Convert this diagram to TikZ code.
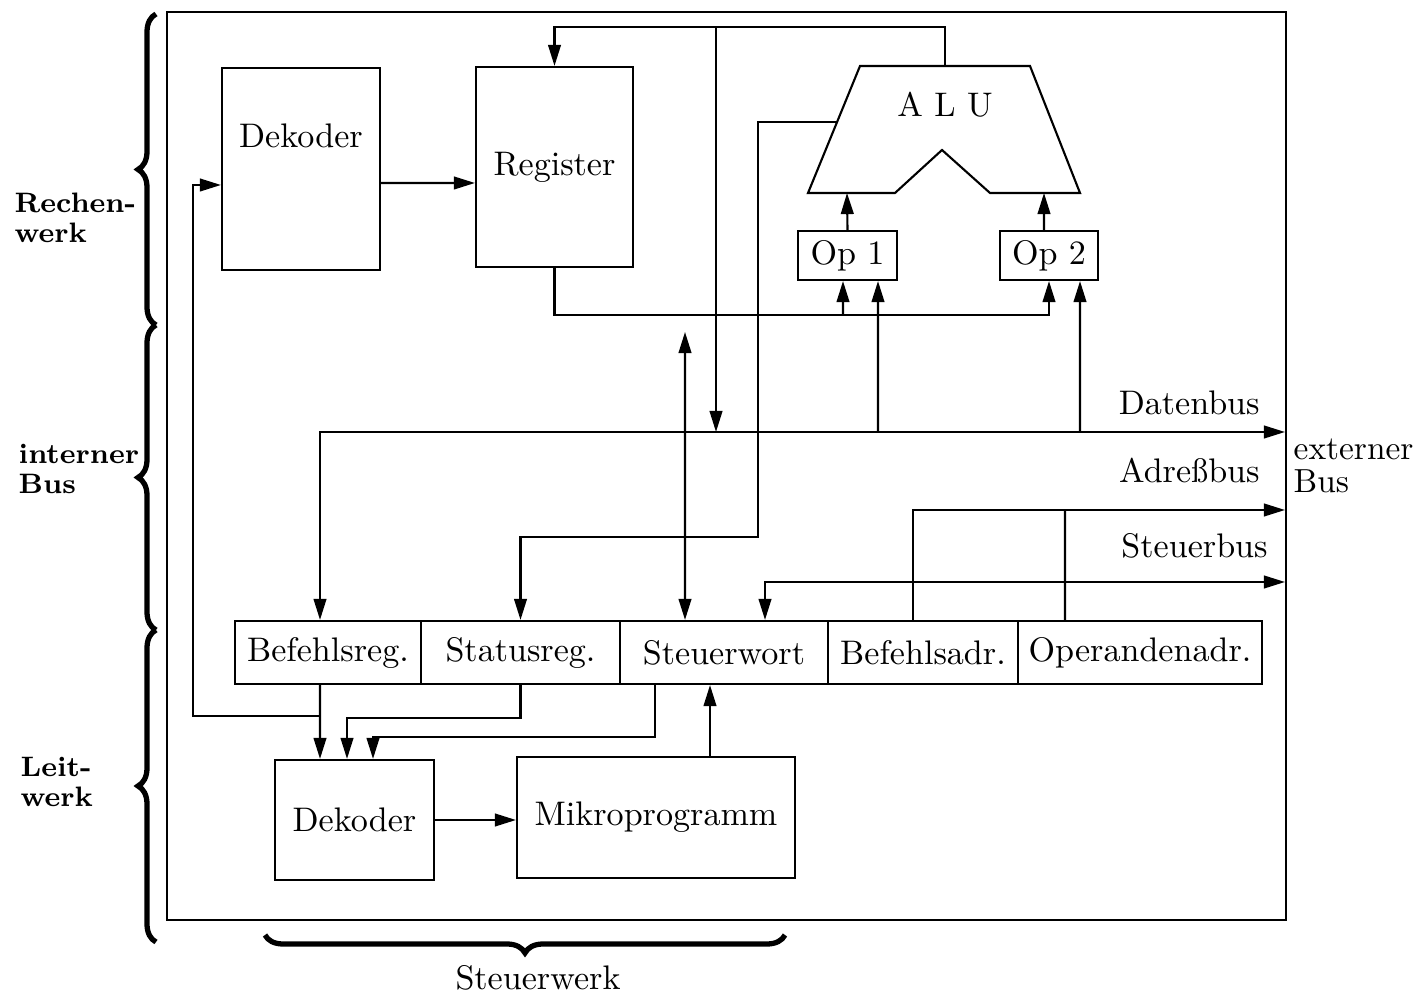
\documentclass[tikz,border=0pt]{standalone}
\usepackage{tikz}
\usetikzlibrary{positioning,arrows.meta,calc,decorations.pathreplacing}
\newcommand{\boxfont}{\fontsize{9.7}{11}\selectfont}
\newcommand{\sidefont}{\fontsize{8}{8.6}\selectfont\bfseries}
\tikzset{
  blk/.style={draw,line width=0.6pt,inner sep=0pt},
  wire/.style={line width=0.6pt},
  sig/.style={wire,-{Triangle[length=6pt,width=3.6pt]}},
  dsig/.style={wire,{Triangle[length=6pt,width=3.6pt]}-{Triangle[length=6pt,width=3.6pt]}},
  brc/.style={decorate,decoration={brace,amplitude=1.8mm},line width=1.5pt},
  side/.style={anchor=west,align=left,font=\sidefont,inner sep=0pt},
}

\begin{document}
\begin{tikzpicture}[x=0.1mm,y=-0.1mm,font=\boxfont]
  \useasboundingbox (0,0) rectangle (1422,996);
  %% frame
  \draw[wire] (167,12) rectangle (1286,920);
  %% Rechenwerk
  \node[blk,minimum width=15.8mm,minimum height=20.2mm,
        label={[name=dek1t,anchor=center,yshift=-6.9mm]north:Dekoder}] (dek1) at (301,169) {};
  \node[blk,minimum width=15.7mm,minimum height=20mm] (reg) at (554.5,167) {Register};
  \draw[wire] (860,66) -- (1030,66) -- (1080,193) -- (990,193) -- (942,150)
    -- (895,193) -- (808,193) -- cycle;
  \node (alu) at (945,105) {A L U};
  \coordinate (alutop) at (945,66);
  \coordinate (aluflag) at (837,122);
  \coordinate (aluina) at (847,193);
  \coordinate (aluinb) at (1044,193);
  \node[blk,minimum width=9.9mm,minimum height=4.9mm] (op1) at (847.5,255.5) {Op 1};
  \node[blk,minimum width=9.8mm,minimum height=4.9mm] (op2) at (1049,255.5) {Op 2};
  \draw[sig] (op1.north) -- (aluina);
  \draw[sig] ([xshift=-0.5mm]op2.north) -- (aluinb);
  \draw[sig] ([yshift=-1.4mm]dek1.east) -- ([yshift=-1.6mm]reg.west);
  \draw[sig] (reg.south) -- (554.5,315) -| (op2.south);
  \draw[sig] (843,315) -- ([xshift=-0.45mm]op1.south);
  \draw[sig] (alutop) -- (945,27) -| (reg.north);
  \draw[sig] (716,27) -- (716,432);
  %% Register row
  \node[blk,minimum width=18.6mm,minimum height=6.3mm] (befr) at (328,652.5) {Befehlsreg.};
  \node[blk,minimum width=19.9mm,minimum height=6.3mm] (statr) at (520.5,652.5) {Statusreg.};
  \node[blk,minimum width=20.8mm,minimum height=6.3mm] (steuw) at (724,652.5) {Steuerwort};
  \node[blk,minimum width=19mm,minimum height=6.3mm] (bada) at (923,652.5) {Befehlsadr.};
  \node[blk,minimum width=24.4mm,minimum height=6.3mm] (opad) at (1140,652.5) {Operandenadr.};
  %% buses
  \coordinate (extD) at (1285,432);
  \coordinate (extA) at (1285,510);
  \coordinate (extS) at (1285,582);
  \coordinate (upend) at (685,332);
  \draw[dsig] ([xshift=-0.8mm]befr.north) |- (extD);
  \draw[sig] (878,432) -- ([xshift=3.05mm]op1.south);
  \draw[sig] (1080,432) -- ([xshift=3.1mm]op2.south);
  \draw[sig] (aluflag) -| (758,537) -| (statr.north);
  \draw[dsig] (upend) -- ([xshift=-3.9mm]steuw.north);
  \draw[sig] ([xshift=-1mm]bada.north) |- (extA);
  \draw[wire] ([xshift=-7.5mm]opad.north) -- (1065,510);
  \draw[dsig] ([xshift=4.1mm]steuw.north) |- (extS);
  \node[anchor=east] (dbus) at (1272,403) {Datenbus};
  \node[anchor=east] (abus) at (1272,470) {Adreßbus};
  \node[anchor=east] (sbus) at (1280,546) {Steuerbus};
  \node[anchor=west,align=left,inner sep=0pt,font=\fontsize{9.5}{9.4}\selectfont] (ext) at (1293,466) {externer\\Bus};
  %% Leitwerk
  \node[blk,minimum width=15.9mm,minimum height=12mm] (dek2) at (354.5,820) {Dekoder};
  \node[blk,minimum width=27.8mm,minimum height=12.1mm] (mikro) at (656,817.5) {Mikroprogramm};
  \draw[sig] ([xshift=-0.8mm]befr.south) -- ([xshift=-3.45mm]dek2.north);
  \draw[sig] (320,716) -- (193,716) |- ([yshift=-1.6mm]dek1.west);
  \draw[sig] (statr.south) -- ++(0,33) -| ([xshift=-0.75mm]dek2.north);
  \draw[sig] ([xshift=-6.9mm]steuw.south) -- ++(0,52) -| ([xshift=1.85mm]dek2.north);
  \draw[sig] ([xshift=5.4mm]mikro.north) -- ([xshift=5.4mm]mikro.north |- steuw.south);
  \draw[sig] (dek2.east) -- (mikro.west |- dek2.east);
  %% braces and side labels
  \draw[brc] (156,325) -- (156,14);
  \draw[brc] (156,630) -- (156,325);
  \draw[brc] (156,942) -- (156,630);
  \draw[brc] (785,935) -- (265,935);
  \node[side] (rw) at (14,218) {Rechen-\\werk};
  \node[side] (ib) at (18,469) {interner\\Bus};
  \node[side] (lw) at (20,782) {Leit-\\werk};
  \node (stw) at (538,978) {Steuerwerk};
\end{tikzpicture}
\end{document}
